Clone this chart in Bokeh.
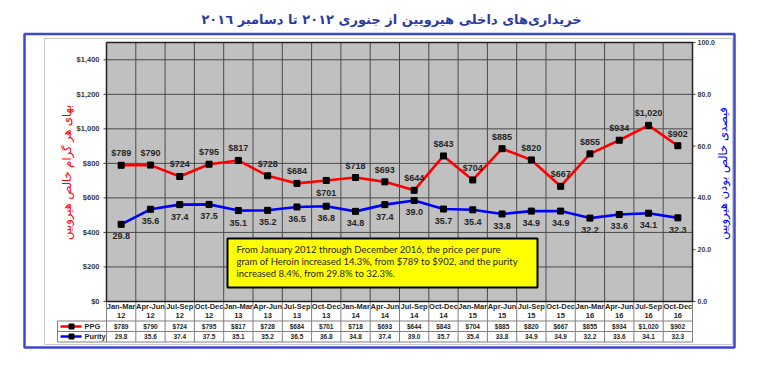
import math
from bokeh.plotting import figure
from bokeh.models import Range1d, ColumnDataSource, LabelSet, Label
from bokeh.core.properties import value
from bokeh.embed import file_html
from bokeh.resources import INLINE

# ---------------- data ----------------
quarters = ["Jan-Mar", "Apr-Jun", "Jul-Sep", "Oct-Dec",
            "Jan-Mar", "Apr-Jun", "Jul-Sep", "Oct-Dec",
            "Jan-Mar", "Apr-Jun", "Jul-Sep", "Oct-Dec",
            "Jan-Mar", "Apr-Jun", "Jul-Sep", "Oct-Dec",
            "Jan-Mar", "Apr-Jun", "Jul-Sep", "Oct-Dec"]
years = ["12", "12", "12", "12", "13", "13", "13", "13", "14", "14",
         "14", "14", "15", "15", "15", "15", "16", "16", "16", "16"]
ppg = [789, 790, 724, 795, 817, 728, 684, 701, 718, 693,
       644, 843, 704, 885, 820, 667, 855, 934, 1020, 902]
purity = [29.8, 35.6, 37.4, 37.5, 35.1, 35.2, 36.5, 36.8, 34.8, 37.4,
          39.0, 35.7, 35.4, 33.8, 34.9, 34.9, 32.2, 33.6, 34.1, 32.3]
left_ticks = [0, 200, 400, 600, 800, 1000, 1200, 1400]
right_ticks = [0, 20, 40, 60, 80, 100]
Y_MAX = 1500
P_MAX = 100
series_names = ["PPG", "Purity"]

title_text = "خریداری‌های داخلی هیرویین از جنوری ٢٠١٢ تا دسامبر ٢٠١٦"
left_title = "بهای هر گرام خالص هیرویین"
right_title = "فیصدی خالص بودن هیرویین"
note_lines = ["From January 2012 through December 2016, the price per pure",
              "gram of Heroin increased 14.3%, from $789 to $902, and the purity",
              "increased 8.4%, from 29.8% to 32.3%."]

# ---------------- layout (canvas pixels) ----------------
W, H = 752, 360
PL, PR, PT, PB = 106, 692, 42, 301          # plotting area
n = len(ppg)
xs = list(range(n))
ux = (PR - PL) / n
uy = Y_MAX / (PB - PT)
up = P_MAX / (PB - PT)
below_idx = {7}

p = figure(width=W, height=H, output_backend="svg", toolbar_location=None,
           x_axis_location=None, y_axis_location=None, title_location=None, min_border=0,
           x_range=Range1d(-0.5 - PL / ux, n - 0.5 + (W - PR) / ux),
           y_range=Range1d(-(H - PB) * uy, Y_MAX + PT * uy),
           background_fill_color="white", border_fill_color="white", outline_line_color=None)
p.extra_y_ranges = {"purity": Range1d(-(H - PB) * up, P_MAX + PT * up),
                    "py": Range1d(H, 0)}
p.extra_x_ranges = {"px": Range1d(0, W)}
p.grid.visible = False

PX = dict(x_range_name="px", y_range_name="py")
bounds = [i - 0.5 for i in range(n + 1)]
grid_c = "#4a4a4a"
tbl_c = "#808080"

# plot area background + grid
p.quad(left=-0.5, right=n - 0.5, bottom=0, top=Y_MAX, fill_color="#C0C0C0", line_color=None)
p.segment(x0=-0.5, x1=n - 0.5, y0=left_ticks, y1=left_ticks, line_color=grid_c, line_width=1)
p.segment(x0=bounds, x1=bounds, y0=0, y1=Y_MAX, line_color=grid_c, line_width=1)

# table lines
p.segment(x0=bounds, x1=bounds, y0=PB, y1=341.5, y_range_name="py", line_color=tbl_c, line_width=1)
rows_y = [320.5, 331, 341.5]
p.segment(x0=57, x1=PR, y0=rows_y, y1=rows_y, line_color=tbl_c, line_width=1, **PX)
p.segment(x0=57, x1=57, y0=320.5, y1=341.5, line_color=tbl_c, line_width=1, **PX)

# axes: ticks and labels
p.segment(x0=PL - 3, x1=PL, y0=left_ticks, y1=left_ticks, x_range_name="px",
          line_color="#444444", line_width=1)
p.segment(x0=PR, x1=PR + 3, y0=right_ticks, y1=right_ticks, x_range_name="px",
          y_range_name="purity", line_color="#444444", line_width=1)
lsrc = ColumnDataSource(dict(v=left_ticks, t=["$" + f"{v:,}" for v in left_ticks]))
rsrc = ColumnDataSource(dict(v=right_ticks, t=[f"{v:.1f}" for v in right_ticks]))
ax_kw = dict(text_baseline="middle", text_font=value("Liberation Sans"),
             text_font_style="bold", text_color="#3a3a3a")
p.add_layout(LabelSet(x=PL - 7, y="v", text="t", source=lsrc, x_range_name="px",
                      text_align="right", text_font_size="7.5px", **ax_kw))
p.add_layout(LabelSet(x=PR + 5, y="v", text="t", source=rsrc, x_range_name="px",
                      y_range_name="purity", text_align="left", text_font_size="7px", **ax_kw))

# plot outline
p.quad(left=-0.5, right=n - 0.5, bottom=0, top=Y_MAX, fill_color=None,
       line_color="#222222", line_width=1.5)

# series
src = ColumnDataSource(dict(
    x=xs, ppg=ppg, purity=purity,
    ppg_lbl=["$" + f"{v:,}" for v in ppg],
    pur_lbl=[f"{v:.1f}" for v in purity],
    ppg_dy=[-13 if i in below_idx else 12 for i in xs],
    quarter=quarters, year=years,
))
p.line("x", "ppg", source=src, line_color="#FF0000", line_width=2.6)
p.scatter("x", "ppg", source=src, marker="square", size=6, color="black")
p.line("x", "purity", source=src, y_range_name="purity", line_color="#0000FF", line_width=2.6)
p.scatter("x", "purity", source=src, y_range_name="purity", marker="square", size=6, color="black")

lbl_kw = dict(text_align="center", text_baseline="middle", text_font=value("Liberation Sans"),
              text_font_style="bold", text_color="#262626")
p.add_layout(LabelSet(x="x", y="ppg", text="ppg_lbl", source=src, y_offset="ppg_dy",
                      text_font_size="9px", **lbl_kw))
p.add_layout(LabelSet(x="x", y="purity", text="pur_lbl", source=src, y_offset=-12,
                      y_range_name="purity", text_font_size="9px", **lbl_kw))

# table texts
p.add_layout(LabelSet(x="x", y=306, text="quarter", source=src, y_range_name="py",
                      text_font_size="7.5px", **lbl_kw))
p.add_layout(LabelSet(x="x", y=315, text="year", source=src, y_range_name="py",
                      text_font_size="7.5px", **lbl_kw))
p.add_layout(LabelSet(x="x", y=326, text="ppg_lbl", source=src, y_range_name="py",
                      text_font_size="6.5px", **lbl_kw))
p.add_layout(LabelSet(x="x", y=336, text="pur_lbl", source=src, y_range_name="py",
                      text_font_size="6.5px", **lbl_kw))

# table legend cells
for ry, col, name in ((326, "#FF0000", series_names[0]), (336, "#0000FF", series_names[1])):
    p.segment(x0=60, x1=81, y0=ry, y1=ry, line_color=col, line_width=2.5, **PX)
    p.scatter(x=[71], y=[ry], marker="square", size=5, color="black", **PX)
    p.add_layout(Label(x=84, y=ry, text=name, text_align="left", text_baseline="middle",
                       text_font="Liberation Sans", text_font_style="bold",
                       text_font_size="7.5px", text_color="#262626", **PX))

# note box
p.quad(left=227, right=537, top=238, bottom=287, fill_color="#FFFF00",
       line_color="black", line_width=2, **PX)
for k, t in enumerate(note_lines):
    p.add_layout(Label(x=236, y=249 + 12 * k, text=t, text_align="left",
                       text_baseline="middle", text_font="Lato", text_font_size="9.5px",
                       text_color="#262626", **PX))

# frames
p.quad(left=44, right=732, top=38, bottom=344, fill_color=None,
       line_color="#C8C8C8", line_width=1, **PX)
p.quad(left=24, right=734, top=33.5, bottom=347, fill_color=None,
       line_color="#3F48CC", line_width=2.5, **PX)

# titles
p.add_layout(Label(x=391, y=19, text=title_text, text_align="center", text_baseline="middle",
                   text_font="DejaVu Sans", text_font_style="bold", text_font_size="13px",
                   text_color="#2B3BA0", **PX))
p.add_layout(Label(x=66, y=172, text=left_title, angle=math.pi / 2, text_align="center",
                   text_baseline="middle", text_font="DejaVu Sans", text_font_size="11.5px",
                   text_color="#FF0000", **PX))
p.add_layout(Label(x=722, y=173, text=right_title, angle=math.pi / 2, text_align="center",
                   text_baseline="middle", text_font="DejaVu Sans", text_font_size="11.5px",
                   text_color="#0000FF", **PX))

open("out.html", "w").write(file_html(p, INLINE))
